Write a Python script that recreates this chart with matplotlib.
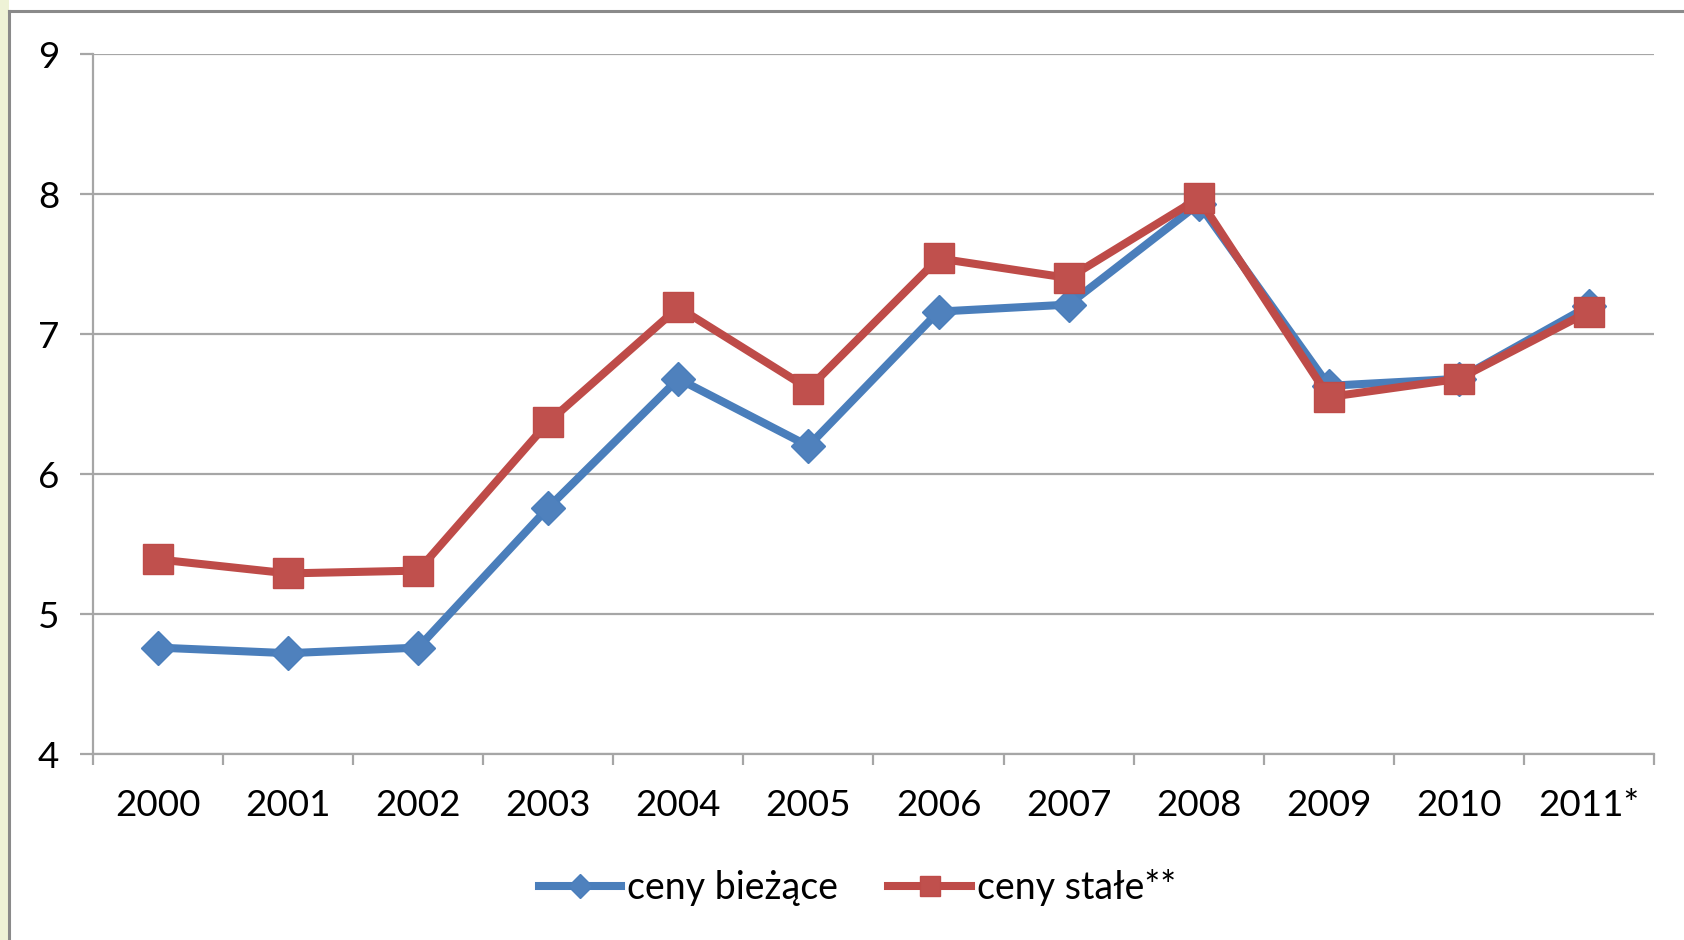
import matplotlib
matplotlib.use("Agg")
import matplotlib.pyplot as plt
from matplotlib.patches import Rectangle
from matplotlib.lines import Line2D

years = ["2000", "2001", "2002", "2003", "2004", "2005", "2006", "2007",
         "2008", "2009", "2010", "2011*"]
ceny_biezace = [4.76, 4.72, 4.76, 5.76, 6.68, 6.20, 7.16, 7.21, 7.93, 6.63, 6.68, 7.20]
ceny_stale = [5.39, 5.29, 5.31, 6.37, 7.19, 6.61, 7.54, 7.40, 7.97, 6.55, 6.68, 7.16]
y_ticks = [4, 5, 6, 7, 8, 9]
series_labels = ["ceny bieżące", "ceny stałe**"]

plt.rcParams['font.family'] = ['Lato', 'DejaVu Sans']

W, H = 1684, 940
fig = plt.figure(figsize=(W / 100, H / 100), dpi=100)
fig.patch.set_facecolor("white")

# left pale strip and frame border
fig.add_artist(Rectangle((0, 0), 9 / W, 1, transform=fig.transFigure,
                         facecolor="#eef2d6", edgecolor="none", zorder=0))
fig.add_artist(Line2D([9 / W, 9 / W], [0, 1 - 11 / H], transform=fig.transFigure,
                      color="#8a8a8a", lw=2.2))
fig.add_artist(Line2D([9 / W, 1], [1 - 11 / H, 1 - 11 / H], transform=fig.transFigure,
                      color="#8a8a8a", lw=2.2))

left, right = 93 / W, 1654 / W
top, bottom = 1 - 54 / H, 1 - 754 / H
ax = fig.add_axes([left, bottom, right - left, top - bottom])

x = list(range(len(years)))
blue_line = "#4A7EBB"
blue_mark = "#4F81BD"
red_line = "#BE4B48"
red_mark = "#C0504D"

ax.plot(x, ceny_biezace, color=blue_line, lw=5.8, marker="D", ms=17,
        mfc=blue_mark, mec=blue_line, mew=1, label=series_labels[0],
        solid_joinstyle="round", zorder=3)
ax.plot(x, ceny_stale, color=red_line, lw=5.8, marker="s", ms=21,
        mfc=red_mark, mec=red_line, mew=1, label=series_labels[1],
        solid_joinstyle="round", zorder=4)

ax.set_xlim(-0.5, len(years) - 0.5)
ax.set_ylim(4, 9)
ax.set_yticks(y_ticks)
ax.set_yticklabels([str(v) for v in y_ticks])

ax.set_xticks(x)
ax.set_xticklabels(years)
ax.set_xticks([i - 0.5 for i in range(len(years) + 1)], minor=True)

grid_c = "#a6a6a6"
ax.grid(axis="y", color=grid_c, lw=1.6, zorder=1)
ax.set_axisbelow(True)
for s in ["top", "right"]:
    ax.spines[s].set_visible(False)
for s in ["left", "bottom"]:
    ax.spines[s].set_color(grid_c)
    ax.spines[s].set_linewidth(1.6)

ax.tick_params(axis="y", which="major", length=9.4, width=1.6, color=grid_c,
               pad=15, labelsize=26.5, labelcolor="black")
ax.tick_params(axis="x", which="major", length=0, pad=25, labelsize=26.5,
               labelcolor="black")
ax.tick_params(axis="x", which="minor", length=8, width=1.6, color=grid_c)

fig.legend(loc="center", bbox_to_anchor=(0.509, 1 - 888 / H), ncol=2,
           frameon=False, fontsize=27, handlelength=2.2, handletextpad=0.15,
           columnspacing=1.35, markerscale=0.7)

fig.savefig("out.png", dpi=100, facecolor="white")
